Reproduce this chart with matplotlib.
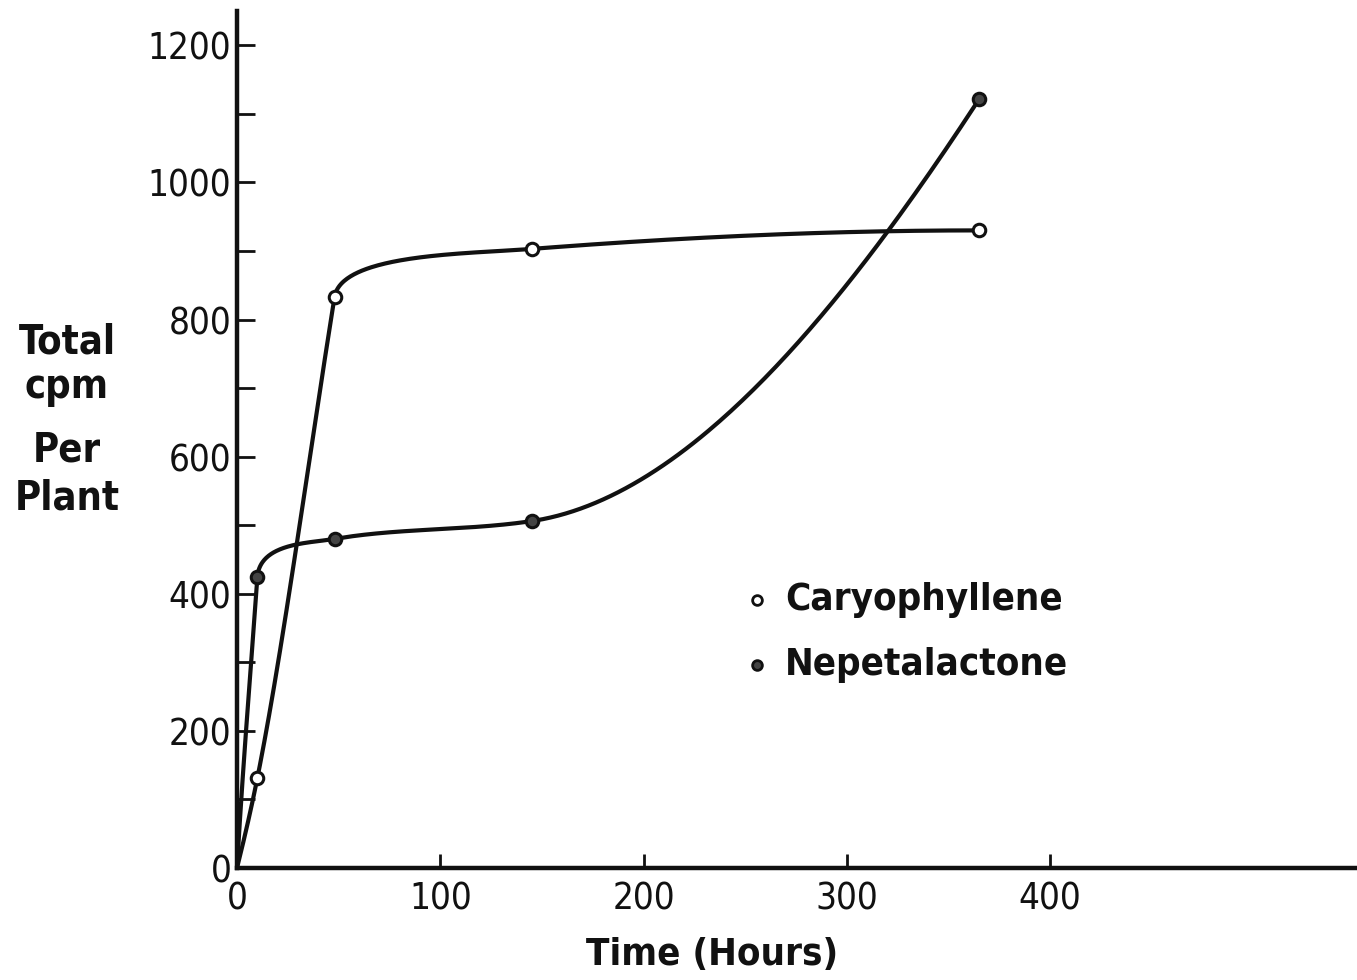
import numpy as np
import matplotlib
matplotlib.use("Agg")
import matplotlib.pyplot as plt
from matplotlib.ticker import MultipleLocator
from matplotlib import font_manager as fm

# ---- data ----
hours = [0, 10, 48, 145, 365]
caryophyllene = [0, 131, 833, 903, 930]
nepetalactone = [0, 424, 480, 506, 1121]
x_ticks = [0, 100, 200, 300, 400]
y_ticks = [0, 200, 400, 600, 800, 1000, 1200]
ylabel_lines = ["Total", "cpm", "Per", "Plant"]
xlabel = "Time (Hours)"
series_names = ["Caryophyllene", "Nepetalactone"]


def smooth_curve(x, y, knee_ratio=10.0, n_seg=120):
    """Monotone (Fritsch-Carlson) cubic through the points, drawn as Bezier
    segments; at a sharp knee the curve arrives straight and bends afterwards."""
    x = np.asarray(x, float)
    y = np.asarray(y, float)
    n = len(x)
    h = np.diff(x)
    delta = np.diff(y) / h
    d = np.zeros(n)
    for k in range(1, n - 1):
        if delta[k - 1] * delta[k] > 0:
            w1 = 2 * h[k] + h[k - 1]
            w2 = h[k] + 2 * h[k - 1]
            d[k] = (w1 + w2) / (w1 / delta[k - 1] + w2 / delta[k])

    def end(h0, h1, d0, d1):
        v = ((2 * h0 + h1) * d0 - h0 * d1) / (h0 + h1)
        if np.sign(v) != np.sign(d0):
            v = 0.0
        elif np.sign(d0) != np.sign(d1) and abs(v) > abs(3 * d0):
            v = 3 * d0
        return v

    d[0] = end(h[0], h[1], delta[0], delta[1])
    d[-1] = end(h[-1], h[-2], delta[-1], delta[-2])
    d_arr = d.copy()
    knee = np.zeros(n, bool)
    for k in range(1, n - 1):
        if delta[k - 1] > 0 and delta[k] > 0 and delta[k - 1] > knee_ratio * delta[k]:
            knee[k] = True
            d_arr[k] = delta[k - 1]
    xs_all, ys_all = [], []
    s = np.linspace(0, 1, n_seg)
    for i in range(n - 1):
        p1 = np.array([x[i], y[i]])
        p2 = np.array([x[i + 1], y[i + 1]])
        if knee[i]:
            dy = 0.9 * (y[i + 1] - y[i])
            c1 = np.array([x[i] + dy / delta[i - 1], y[i] + dy])
        else:
            c1 = p1 + np.array([h[i] / 3, d[i] * h[i] / 3])
        c2 = p2 - np.array([h[i] / 3, d_arr[i + 1] * h[i] / 3])
        b = (((1 - s) ** 3)[:, None] * p1 + (3 * (1 - s) ** 2 * s)[:, None] * c1
             + (3 * (1 - s) * s**2)[:, None] * c2 + (s**3)[:, None] * p2)
        xs_all.append(b[:, 0])
        ys_all.append(b[:, 1])
    return np.concatenate(xs_all), np.concatenate(ys_all)


cond_path = fm.findfont(fm.FontProperties(family="DejaVu Sans", stretch="condensed"))
has_cond = "Condensed" in cond_path
k = 1.1 if has_cond else 1.0
fstretch = "condensed" if has_cond else "normal"
fam = ["DejaVu Sans"]

fig = plt.figure(figsize=(13.57, 9.8), dpi=100)
ax = fig.add_axes([237 / 1357, 112 / 980, 1 - 237 / 1357, 857 / 980])
ax.set_xlim(0, 551)
ax.set_ylim(0, 1250)

ink = "#111111"
for series in (caryophyllene, nepetalactone):
    cx, cy = smooth_curve(hours, series)
    ax.plot(cx, cy, color=ink, lw=3.0, solid_capstyle="round", solid_joinstyle="round")
ax.plot(hours[1:], caryophyllene[1:], "o", ms=9, mfc="white", mec=ink, mew=2.2, zorder=5)
ax.plot(hours[1:], nepetalactone[1:], "o", ms=9, mfc="#444444", mec=ink, mew=2.2, zorder=5)

for s in ["top", "right"]:
    ax.spines[s].set_visible(False)
for s in ["left", "bottom"]:
    ax.spines[s].set_linewidth(3.2)
    ax.spines[s].set_color(ink)

ax.set_xticks(x_ticks)
ax.set_xticklabels([str(v) for v in x_ticks], family=fam, fontsize=24 * k, stretch=fstretch)
ax.set_yticks(y_ticks)
ax.set_yticklabels([str(v) for v in y_ticks], family=fam, fontsize=24 * k, stretch=fstretch)
ax.yaxis.set_minor_locator(MultipleLocator(100))
ax.tick_params(axis="y", which="both", direction="in", length=13, width=2, pad=4, colors=ink)
ax.tick_params(axis="x", which="major", direction="in", length=10, width=2, pad=9, colors=ink)

# legend: markers + text
ax.plot([757 / 1357], [1 - 600 / 980], "o", transform=fig.transFigure, ms=7,
        mfc="white", mec=ink, mew=2, clip_on=False)
ax.plot([757 / 1357], [1 - 665 / 980], "o", transform=fig.transFigure, ms=7,
        mfc="#444444", mec=ink, mew=2, clip_on=False)
for name, yp in zip(series_names, [600, 665]):
    fig.text(785 / 1357, 1 - yp / 980, name, family=fam, weight="bold", stretch=fstretch,
             fontsize=25 * k, va="center", ha="left", color=ink)

# y label (stacked words)
for word, yp in zip(ylabel_lines, [343, 387, 450, 498]):
    fig.text(67 / 1357, 1 - yp / 980, word, family=fam, weight="bold", stretch=fstretch,
             fontsize=26 * k, ha="center", va="center", color=ink)

fig.text(712 / 1357, 1 - 955 / 980, xlabel, family=fam, weight="bold", stretch=fstretch,
         fontsize=25 * k, ha="center", va="center", color=ink)

fig.savefig("out.png", dpi=100, facecolor="white")
